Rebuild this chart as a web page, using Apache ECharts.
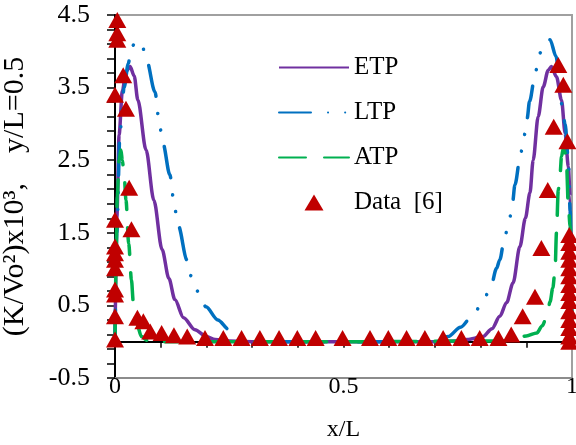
<!DOCTYPE html>
<html><head><meta charset="utf-8">
<script src="https://cdn.jsdelivr.net/npm/echarts@6/dist/echarts.min.js"></script>
<style>html,body{margin:0;padding:0;background:#fff}#c{width:576px;height:445px}</style>
</head><body><div id="c"></div>
<script>
// ---- data ----
const etpX = [0,0.004,0.009,0.016,0.024,0.033,0.042,0.05,0.068,0.085,0.103,0.118,0.131,0.15,0.175,0.2,0.219,0.25,0.3,0.4,0.5,0.6,0.7,0.75,0.77,0.805,0.825,0.842,0.857,0.871,0.886,0.898,0.908,0.915,0.926,0.937,0.948,0.955,0.966,0.977,0.985,0.992,0.996,1];
const etpY = [0,1.7,2.85,3.45,3.72,3.79,3.66,3.33,2.64,1.95,1.27,0.87,0.58,0.33,0.165,0.07,0.03,0.01,0,0,0,0,0,0.01,0.03,0.07,0.18,0.35,0.54,0.81,1.31,1.7,2.05,2.5,3.1,3.51,3.74,3.79,3.65,3.33,2.87,2.41,2.0,0];
const ltpX = [0,0.004,0.011,0.02,0.029,0.036,0.047,0.058,0.069,0.0875,0.098,0.105,0.12,0.131,0.139,0.157,0.166,0.182,0.199,0.225,0.25,0.27,0.3,0.35,0.5,0.65,0.7,0.729,0.756,0.784,0.806,0.822,0.835,0.842,0.853,0.863,0.87,0.875,0.888,0.895,0.902,0.907,0.921,0.931,0.942,0.952,0.965,0.977,0.985,0.992,0.996,1];
const ltpY = [0,1.5,2.9,3.5,3.83,4.06,4.14,4.11,3.88,3.44,2.96,2.73,2.3,1.82,1.59,1.13,0.91,0.69,0.48,0.3,0.165,0.08,0.02,0,0,0,0.02,0.07,0.2,0.37,0.57,0.75,1.01,1.13,1.45,1.68,1.92,2.16,2.6,2.83,3.08,3.31,3.74,3.98,4.12,4.16,3.93,3.28,3.0,2.5,1.8,0];
const atpX = [0,0.002,0.005,0.009,0.013,0.016,0.02,0.024,0.03,0.036,0.04,0.047,0.058,0.07,0.1,0.5,0.85,0.879,0.9,0.923,0.935,0.945,0.952,0.958,0.963,0.966,0.97,0.974,0.977,0.981,0.985,0.988,0.992,0.996,0.998,1];
const atpY = [0,1.0,2.0,2.5,2.64,2.5,2.3,1.95,1.35,0.85,0.55,0.26,0.07,0.02,0,0,0.01,0.05,0.08,0.12,0.22,0.35,0.55,0.74,0.99,1.5,2.09,2.32,2.55,2.66,2.6,2.45,1.86,1.59,1.0,0];
const dataX = [0.005,0.005,0.005,0,0,0,0,0,0,0,0,0,0,0.018,0.024,0.031,0.036,0.049,0.062,0.077,0.102,0.129,0.158,0.197,0.237,0.277,0.317,0.359,0.399,0.439,0.498,0.558,0.598,0.638,0.678,0.718,0.758,0.798,0.839,0.867,0.892,0.919,0.933,0.947,0.96,0.97,0.981,0.99,0.994,0.994,0.994,0.994,0.994,0.994,0.994,0.994,0.994,0.994,0.994,0.994,0.994,0.994];
const dataY = [4.43,4.25,4.16,3.4,1.68,1.31,1.22,1.13,1.01,0.72,0.65,0.35,0.03,3.67,3.21,2.12,1.55,0.33,0.28,0.14,0.12,0.09,0.07,0.05,0.05,0.05,0.05,0.05,0.05,0.05,0.05,0.05,0.05,0.05,0.05,0.05,0.05,0.05,0.05,0.1,0.35,0.62,1.29,2.09,2.96,3.81,3.54,2.76,1.47,1.36,1.24,1.13,1.01,0.9,0.78,0.67,0.56,0.42,0.3,0.19,0.07,0.0];
const xTickLabels = ['0','0.5','1'];
const seriesNames = ['ETP','LTP','ATP','Data  [6]'];

const zip = (xs, ys) => xs.map((x, i) => [x, ys[i]]);
const FONT = 'Liberation Serif';
const chart = echarts.init(document.getElementById('c'));
chart.setOption({
  animation: false,
  backgroundColor: '#fff',
  grid: { left: 115, right: 4, top: 15, bottom: 67, show: true, borderColor: '#a0a0a0', borderWidth: 2,
          outerBoundsMode: 'none', containLabel: false },
  legend: {
    orient: 'vertical', left: 273, top: 50, itemWidth: 70, itemHeight: 16, itemGap: 20,
    symbolKeepAspect: true,
    textStyle: { fontFamily: FONT, fontSize: 25, color: '#000' },
    data: [
      { name: seriesNames[0], itemStyle: { opacity: 0 } },
      { name: seriesNames[1], itemStyle: { opacity: 0 } },
      { name: seriesNames[2], itemStyle: { opacity: 0 } },
      { name: seriesNames[3], icon: 'path://M35,0 L44.5,16 L25.5,16 Z M0,8 M70,8', itemStyle: { opacity: 1 } }
    ]
  },
  xAxis: [
    { type: 'value', min: 0, max: 1, interval: 0.1, position: 'bottom',
      axisLine: { onZero: true, lineStyle: { color: '#000', width: 2 } },
      axisTick: { show: true, length: 6, lineStyle: { color: '#000', width: 1.5 } },
      axisLabel: { show: false }, splitLine: { show: false } },
    { type: 'value', min: 0, max: 1, interval: 0.5, position: 'bottom',
      axisLine: { onZero: false, lineStyle: { color: '#8c8c8c', width: 2 } },
      axisTick: { show: false }, splitLine: { show: false },
      axisLabel: { fontFamily: FONT, fontSize: 24, color: '#000', margin: -3,
        formatter: v => xTickLabels[Math.round(v * 2)] },
      name: 'x/L', nameLocation: 'middle', nameGap: 40,
      nameTextStyle: { fontFamily: FONT, fontSize: 24, color: '#000' } }
  ],
  yAxis: {
    type: 'value', min: -0.5, max: 4.5, interval: 1,
    axisLine: { show: true, onZero: false, lineStyle: { color: '#000', width: 2 } },
    axisTick: { show: true, length: 8, lineStyle: { color: '#000', width: 1.5 } },
    minorTick: { show: true, splitNumber: 5, length: 8, lineStyle: { color: '#000', width: 1.5 } },
    splitLine: { show: false },
    axisLabel: { fontFamily: FONT, fontSize: 26, color: '#000', margin: 25, formatter: v => v.toFixed(1) },
    name: '(K/Vo²)x10³,    y/L=0.5', nameLocation: 'middle', nameGap: 85,
    nameTextStyle: { fontFamily: FONT, fontSize: 30, color: '#000' }
  },
  series: [
    { name: 'ETP', type: 'line', data: zip(etpX, etpY), showSymbol: false, symbol: 'none',
      smooth: 0.3, smoothMonotone: 'x', color: '#7030A0',
      lineStyle: { color: '#7030A0', width: 3.5 } },
    { name: 'LTP', type: 'line', data: zip(ltpX, ltpY), showSymbol: false, symbol: 'none',
      smooth: 0.3, smoothMonotone: 'x', color: '#0070C0',
      lineStyle: { color: '#0070C0', width: 3.5, type: [32, 17, 0.1, 17, 0.1, 17], cap: 'round' } },
    { name: 'ATP', type: 'line', data: zip(atpX, atpY), showSymbol: false, symbol: 'none',
      smooth: 0.3, smoothMonotone: 'x', color: '#00B050',
      lineStyle: { color: '#00B050', width: 3.5, type: [27, 18], cap: 'round' } },
    { name: 'Data  [6]', type: 'scatter', data: zip(dataX, dataY), symbol: 'triangle',
      symbolSize: [18, 16], color: '#C00000', itemStyle: { color: '#C00000', opacity: 1 }, z: 5 }
  ]
});
</script>
</body></html>
